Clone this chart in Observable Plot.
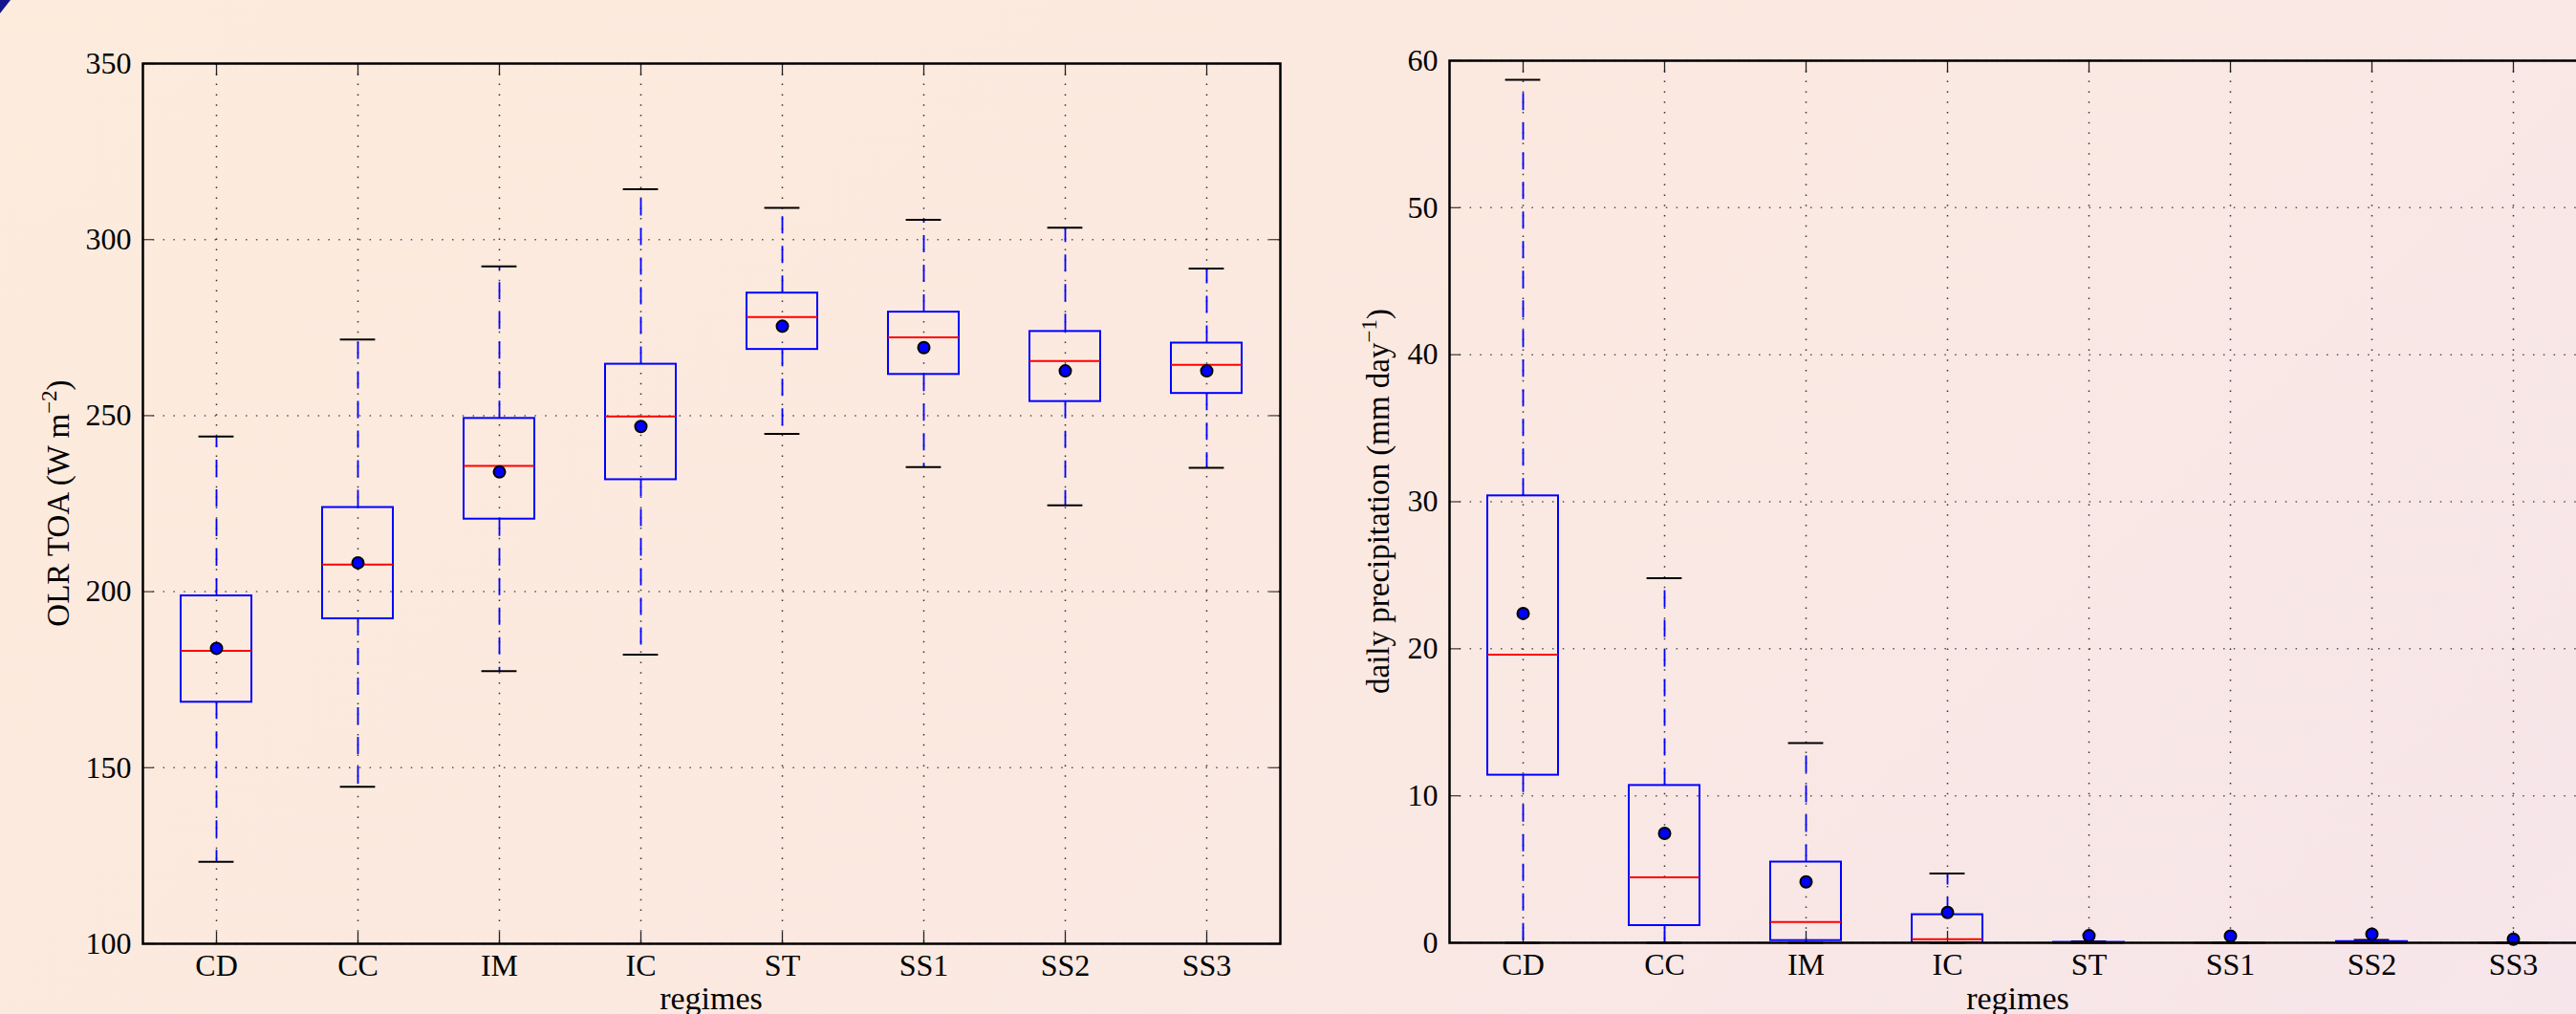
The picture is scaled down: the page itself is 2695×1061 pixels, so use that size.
<!DOCTYPE html>
<html><head><meta charset="utf-8">
<script src="https://cdn.jsdelivr.net/npm/d3@7"></script>
<script src="https://cdn.jsdelivr.net/npm/@observablehq/plot@0.6"></script>
<style>
html,body{margin:0;padding:0;width:2695px;height:1061px;overflow:hidden;}
body{background:linear-gradient(135deg,#fdebdc 0%,#fbe9e1 50%,#f6e5ea 100%);}
#wrap{display:flex;flex-wrap:nowrap;width:2800px;height:1061px;}
#wrap > div{flex:none;}
#corner{position:absolute;left:0;top:0;width:11px;height:14px;background:#14148c;clip-path:polygon(0 0,100% 0,0 100%);}
</style></head><body>
<div id="wrap"><div id="p1"></div><div id="p2"></div></div>
<div id="corner"></div>
<script>
const regimes = ["CD","CC","IM","IC","ST","SS1","SS2","SS3"];

// OLR TOA (W m-2)
const olrLow  = [123.3,144.6,177.4,182.1,244.8,235.4,224.5,235.2];
const olrQ1   = [168.6,192.3,220.6,231.8,268.8,261.7,254.0,256.3];
const olrMed  = [183.2,207.7,235.7,249.8,278.0,272.2,265.5,264.4];
const olrQ3   = [198.8,223.9,249.2,264.6,284.8,279.4,273.9,270.6];
const olrHigh = [244.1,271.6,292.4,314.3,309.0,305.6,303.4,291.8];
const olrMean = [183.9,208.2,234.0,246.9,275.4,269.3,262.7,262.7];
const olrTicks = [100,150,200,250,300,350];

// daily precipitation (mm day-1)
const prLow  = [0,0,0,0,0,0,0,0];
const prQ1   = [11.4,1.17,0.15,0,0,0,0,0];
const prMed  = [19.6,4.45,1.41,0.24,0,0,0,0];
const prQ3   = [30.4,10.7,5.49,1.91,0.03,0,0.08,0];
const prHigh = [58.7,24.8,13.58,4.71,0.1,0,0.2,0];
const prMean = [22.4,7.44,4.14,2.06,0.48,0.46,0.59,0.24];
const prTicks = [0,10,20,30,40,50,60];

const FONT = "'Liberation Serif', 'DejaVu Serif', serif";

function panel(o) {
  const data = regimes.map((r, i) => ({
    r, low: o.low[i], q1: o.q1[i], med: o.med[i], q3: o.q3[i], high: o.high[i], mean: o.mean[i]
  }));
  const blank = () => "";
  const plot = Plot.plot({
    width: o.width, height: 1061,
    marginLeft: o.ml, marginRight: o.mr, marginTop: o.mt, marginBottom: o.mb,
    style: {background: "transparent", fontFamily: FONT, fontSize: "32px", color: "black", overflow: "visible"},
    x: {domain: regimes, paddingInner: 0.5, paddingOuter: 0.25, align: 0.5, axis: null},
    y: {domain: o.domain, axis: null},
    marks: [
      Plot.gridY(o.ticks, {stroke: "#555", strokeOpacity: 1, strokeWidth: 1.5, strokeDasharray: "1.5,9.3"}),
      Plot.gridX(regimes, {stroke: "#333", strokeOpacity: 1, strokeWidth: 1.5, strokeDasharray: "1.5,9.3"}),
      Plot.axisY(o.ticks, {anchor: "left", tickSize: -12, tickFormat: blank, label: null, stroke: "#444", strokeWidth: 1.3}),
      Plot.axisY(o.ticks, {anchor: "right", tickSize: -12, tickFormat: blank, label: null, stroke: "#444", strokeWidth: 1.3}),
      Plot.axisX(regimes, {anchor: "bottom", tickSize: -12, tickFormat: blank, label: null, stroke: "#222", strokeWidth: 1.3}),
      Plot.axisX(regimes, {anchor: "top", tickSize: -12, tickFormat: blank, label: null, stroke: "#222", strokeWidth: 1.3}),
      Plot.axisY(o.ticks, {anchor: "left", tickSize: 0, tickPadding: 12, label: null, fontSize: 32}),
      Plot.axisX(regimes, {anchor: "bottom", tickSize: 0, tickPadding: 11, label: null, fontSize: 32}),
      Plot.ruleX(data, {x: "r", y1: "q3", y2: "high", stroke: "blue", strokeWidth: 1.8, strokeDasharray: "18,13"}),
      Plot.ruleX(data, {x: "r", y1: "q1", y2: "low", stroke: "blue", strokeWidth: 1.8, strokeDasharray: "18,13"}),
      Plot.tickY(data, {x: "r", y: "high", stroke: "black", strokeWidth: 2, insetLeft: 18.6, insetRight: 18.6}),
      Plot.tickY(data, {x: "r", y: "low", stroke: "black", strokeWidth: 2, insetLeft: 18.6, insetRight: 18.6}),
      Plot.barY(data, {x: "r", y1: "q1", y2: "q3", fill: "none", stroke: "blue", strokeWidth: 2}),
      Plot.tickY(data, {x: "r", y: "med", stroke: "red", strokeWidth: 2}),
      Plot.dot(data, {x: "r", y: "mean", r: 6, fill: "blue", stroke: "black", strokeWidth: 2}),
      Plot.frame({stroke: "black", strokeWidth: 2.5})
    ]
  });
  const svg = d3.select(plot);
  const cy = (o.mt + (1061 - o.mb)) / 2;
  const cx = (o.ml + (o.width - o.mr)) / 2;
  const t = svg.append("text")
    .attr("transform", `translate(${o.labelX},${cy}) rotate(-90)`)
    .attr("text-anchor", "middle")
    .attr("font-family", FONT)
    .attr("font-size", 33)
    .attr("fill", "black");
  t.append("tspan").text(o.labelMain);
  t.append("tspan").attr("dy", -13).attr("font-size", 23).text(o.labelSup);
  t.append("tspan").attr("dy", 13).text(")");
  svg.append("text")
    .attr("x", cx).attr("y", 1056)
    .attr("text-anchor", "middle")
    .attr("font-family", FONT)
    .attr("font-size", 34)
    .attr("fill", "black")
    .text("regimes");
  return plot;
}

document.getElementById("p1").appendChild(panel({
  low: olrLow, q1: olrQ1, med: olrMed, q3: olrQ3, high: olrHigh, mean: olrMean,
  ticks: olrTicks, domain: [100, 350],
  width: 1420, ml: 149, mr: 81, mt: 66, mb: 74,
  labelX: 72, labelMain: "OLR TOA (W m", labelSup: "\u22122"
}));
document.getElementById("p2").appendChild(panel({
  low: prLow, q1: prQ1, med: prMed, q3: prQ3, high: prHigh, mean: prMean,
  ticks: prTicks, domain: [0, 60],
  width: 1306, ml: 96, mr: 20, mt: 63, mb: 75,
  labelX: 33, labelMain: "daily precipitation (mm day", labelSup: "\u22121"
}));
</script>
</body></html>
